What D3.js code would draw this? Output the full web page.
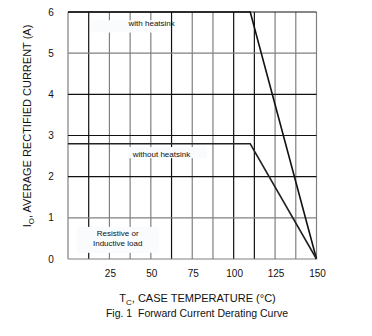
<!DOCTYPE html>
<html><head><meta charset="utf-8">
<script src="https://cdn.jsdelivr.net/npm/d3@7"></script>
<style>
html,body{margin:0;padding:0;background:#fff;}
svg{display:block;font-family:"Liberation Sans",Arial,sans-serif;}
</style></head>
<body><svg id="c" width="372" height="336"></svg>
<script>
// Data
const xTicks = [25, 50, 75, 100, 125, 150];
const yTicks = [0, 1, 2, 3, 4, 5, 6];
const xGrid = [0, 12.5, 25, 37.5, 50, 62.5, 75, 87.5, 100, 112.5, 125, 137.5, 150];
const xGridDark = [12.5, 62.5, 100, 112.5];
const yGridDark = [2, 3, 4, 6];
const withTemp = [0, 110, 150];
const withCurrent = [6, 6, 0];
const withoutTemp = [0, 110, 150];
const withoutCurrent = [2.8, 2.8, 0];

const svg = d3.select("#c");
const x = d3.scaleLinear().domain([0, 150]).range([68, 316.5]);
const y = d3.scaleLinear().domain([0, 6]).range([259, 12]);

// grid
svg.append("g").selectAll("line").data(xGrid).join("line")
  .attr("x1", d => x(d)).attr("x2", d => x(d))
  .attr("y1", y(0)).attr("y2", y(6))
  .attr("stroke", d => xGridDark.includes(d) ? "#111" : "#808080")
  .attr("stroke-width", 1.2);
svg.append("g").selectAll("line").data(yTicks).join("line")
  .attr("x1", x(0)).attr("x2", x(150))
  .attr("y1", d => y(d)).attr("y2", d => y(d))
  .attr("stroke", d => yGridDark.includes(d) ? "#111" : "#808080")
  .attr("stroke-width", 1.2);

// label boxes (cover grid)
const boxes = [
  {x0: 14, x1: 54, y0: 5.8, y1: 5.5},
  {x0: 36, x1: 84, y0: 2.72, y1: 2.45},
  {x0: 5.5, x1: 55, y0: 0.78, y1: 0.15}
];
svg.append("g").selectAll("rect").data(boxes).join("rect")
  .attr("x", d => x(d.x0)).attr("y", d => y(d.y0))
  .attr("width", d => x(d.x1) - x(d.x0)).attr("height", d => y(d.y1) - y(d.y0))
  .attr("fill", "#f9fbfd");

// curves
const line = d3.line().x(d => x(d[0])).y(d => y(d[1]));
svg.append("path").datum(withTemp.map((t, i) => [t, withCurrent[i]]))
  .attr("d", line).attr("fill", "none").attr("stroke", "#111").attr("stroke-width", 1.6);
svg.append("path").datum(withoutTemp.map((t, i) => [t, withoutCurrent[i]]))
  .attr("d", line).attr("fill", "none").attr("stroke", "#222").attr("stroke-width", 1.6);

// tick labels
svg.append("g").selectAll("text").data(yTicks).join("text")
  .attr("x", 51).attr("y", d => y(d) + 3.5)
  .attr("text-anchor", "middle").attr("font-size", 10).attr("fill", "#111")
  .text(d => d);
svg.append("g").selectAll("text").data(xTicks).join("text")
  .attr("x", d => x(d) + 1).attr("y", 277)
  .attr("text-anchor", "middle").attr("font-size", 10).attr("fill", "#111")
  .text(d => d);

// annotations
const ann = svg.append("g").attr("font-size", 8).attr("fill", "#111").attr("text-anchor", "middle");
ann.append("text").attr("x", 151.7).attr("y", 25.5).text("with heatsink");
ann.append("text").attr("x", 161.5).attr("y", 156.5).text("without heatsink");
ann.append("text").attr("x", 117.7).attr("y", 236).text("Resistive or");
ann.append("text").attr("x", 117.7).attr("y", 245.5).text("Inductive load");

// axis titles
const yt = svg.append("text").attr("transform", "translate(31,126) rotate(-90)")
  .attr("text-anchor", "middle").attr("font-size", 11).attr("fill", "#111");
yt.append("tspan").text("I");
yt.append("tspan").attr("font-size", 8).attr("dy", 3).text("O");
yt.append("tspan").attr("dy", -3).text(", AVERAGE RECTIFIED CURRENT (A)");

const xt = svg.append("text").attr("x", 197.5).attr("y", 302)
  .attr("text-anchor", "middle").attr("font-size", 11).attr("fill", "#111");
xt.append("tspan").text("T");
xt.append("tspan").attr("font-size", 8).attr("dy", 3).text("C");
xt.append("tspan").attr("dy", -3).text(", CASE TEMPERATURE (°C)");

svg.append("text").attr("x", 197).attr("y", 317)
  .attr("text-anchor", "middle").attr("font-size", 10.5).attr("fill", "#111")
  .text("Fig. 1\u00a0\u00a0Forward Current Derating Curve");
</script></body></html>
